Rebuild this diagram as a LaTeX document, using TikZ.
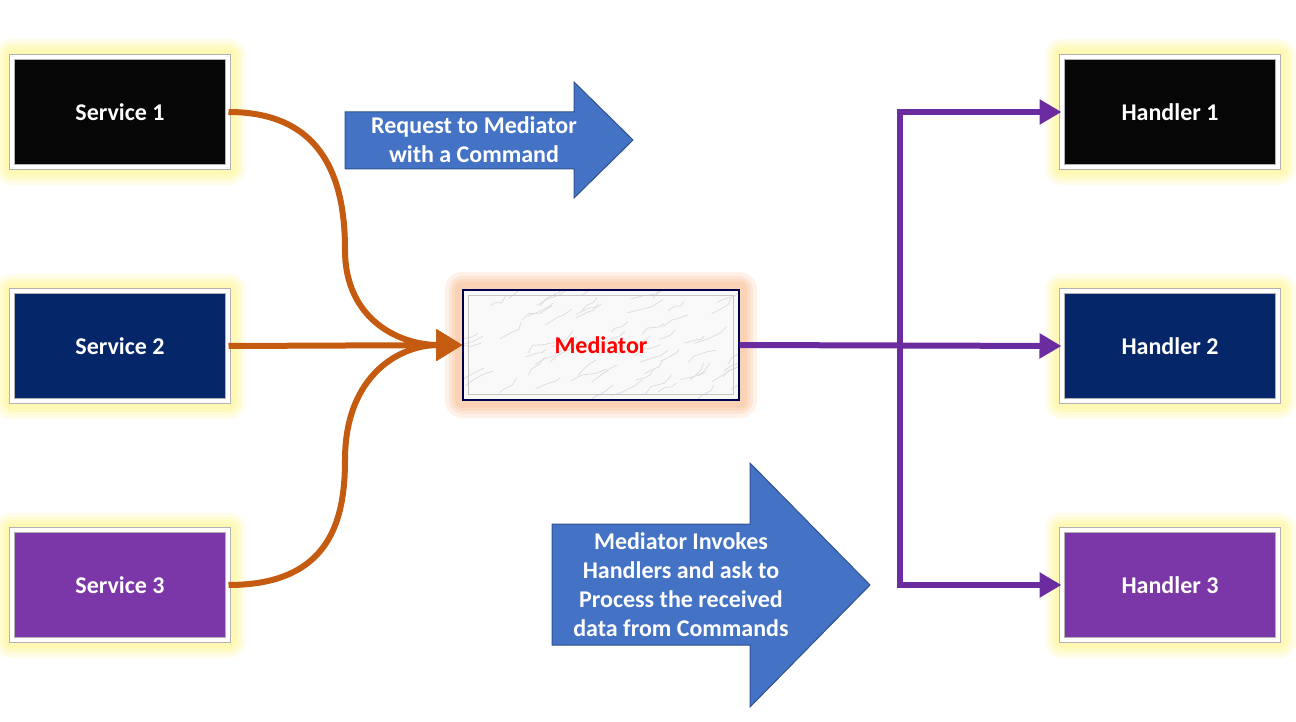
\documentclass[tikz,border=0pt]{standalone}
\usepackage{fontspec}
\setmainfont{Carlito}
\usepackage{tikz}
\usetikzlibrary{positioning, calc, arrows.meta, backgrounds}

\definecolor{srvblack}{HTML}{060606}
\definecolor{srvnavy}{HTML}{06266A}
\definecolor{srvpurple}{HTML}{7B37A8}
\definecolor{linkorange}{HTML}{C55A11}
\definecolor{linkpurple}{HTML}{6A2C9E}
\definecolor{blockblue}{HTML}{4472C4}
\definecolor{blockedge}{HTML}{2F528F}
\definecolor{glowyellow}{HTML}{FFF06A}
\definecolor{gloworange}{HTML}{F6A66C}

\tikzset{
  box/.style={rectangle, minimum width=108pt, minimum height=55pt,
    draw=gray!60, double=white, double distance=2pt, line width=.5pt,
    text=white, font=\bfseries\fontsize{12}{14.5}\selectfont},
  medbox/.style={rectangle, minimum width=138pt, minimum height=55pt,
    draw=black!70!blue, line width=.6pt, text=red,
    font=\bfseries\fontsize{12}{14.5}\selectfont},
  olink/.style={draw=linkorange, line width=3pt, -{Triangle[length=13pt,width=15pt]}},
  plink/.style={draw=linkpurple, line width=3pt, -{Triangle[length=11pt,width=12pt]}},
  block/.style={fill=blockblue, draw=blockedge, line width=.5pt},
  blocktext/.style={text=white, align=center, font=\bfseries\fontsize{12}{14.5}\selectfont},
  glow/.style={line join=round, opacity=.16}
}

\begin{document}
\begin{tikzpicture}[x=0.5pt, y=-0.5pt]

\useasboundingbox (0,0) rectangle (1296,722);

% set columns and rows
\pgfmathsetmacro{\leftx}{120}
\pgfmathsetmacro{\rightx}{1170}
\pgfmathsetmacro{\rowa}{112}
\pgfmathsetmacro{\rowb}{346}
\pgfmathsetmacro{\rowc}{585}

% services on the left
\node[box, fill=srvblack] (s1) at (\leftx,\rowa) {Service 1};
\node[box, fill=srvnavy] (s2) at (\leftx,\rowb) {Service 2};
\node[box, fill=srvpurple] (s3) at (\leftx,\rowc) {Service 3};

% handlers on the right
\node[box, fill=srvblack] (h1) at (\rightx,\rowa) {Handler 1};
\node[box, fill=srvnavy] (h2) at (\rightx,\rowb) {Handler 2};
\node[box, fill=srvpurple] (h3) at (\rightx,\rowc) {Handler 3};

% mediator in the middle
\node[medbox] (med) at (601,345) {Mediator};

% glow and marble behind the boxes
\begin{scope}[on background layer]
	\foreach \n in {s1,s2,s3,h1,h2,h3} {
		\foreach \w in {17,13,10,7} {
			\draw[glow, glowyellow, line width=\w pt] (\n.south west) rectangle (\n.north east);
		}
	}
	\foreach \w in {17,13,10,7} {
		\draw[glow, gloworange, line width=\w pt] (med.south west) rectangle (med.north east);
	}
	\fill[gray!5] (med.south west) rectangle (med.north east);
	\begin{scope}
		\clip (med.south west) rectangle (med.north east);
		\pgfmathsetseed{11}
		\foreach \i in {1,...,70} {
			\draw[gray!28, line width=.35pt] ($(med.center)+(rand*150,rand*60)$)
				-- ++(8+rand*5,-5+rand*3) -- ++(9+rand*5,-3+rand*4) -- ++(7+rand*5,-5+rand*3);
		}
	\end{scope}
	\draw[gray!45, line width=.4pt] ($(med.south west)+(6,-6)$) rectangle ($(med.north east)+(-6,6)$);
\end{scope}

% orange requests into mediator
\draw[olink] (s1.east) .. controls (330,\rowa) and (345,190) .. (345,250)
	.. controls (345,320) and (400,345) .. (med.west);
\draw[olink] (s2.east) -- (med.west);
\draw[olink] (s3.east) .. controls (330,\rowc) and (345,520) .. (345,460)
	.. controls (345,375) and (400,345) .. (med.west);

% purple split to handlers
\coordinate (split) at (900,345);
\draw[plink] (med.east) -- (h2.west);
\draw[plink] (split) |- (h1.west);
\draw[plink] (split) |- (h3.west);

% block arrows with captions
\draw[block] (345,112) -- (574,112) -- (574,82) -- (633,140) -- (574,198) -- (574,169) -- (345,169) -- cycle;
\node[blocktext] (req) at (474,140) {Request to Mediator\\with a Command};
\draw[block] (552,524) -- (750,524) -- (750,463) -- (870,585) -- (750,707) -- (750,645) -- (552,645) -- cycle;
\node[blocktext] (inv) at (681,585) {Mediator Invokes\\Handlers and ask to\\Process the received\\data from Commands};

\end{tikzpicture}
\end{document}
